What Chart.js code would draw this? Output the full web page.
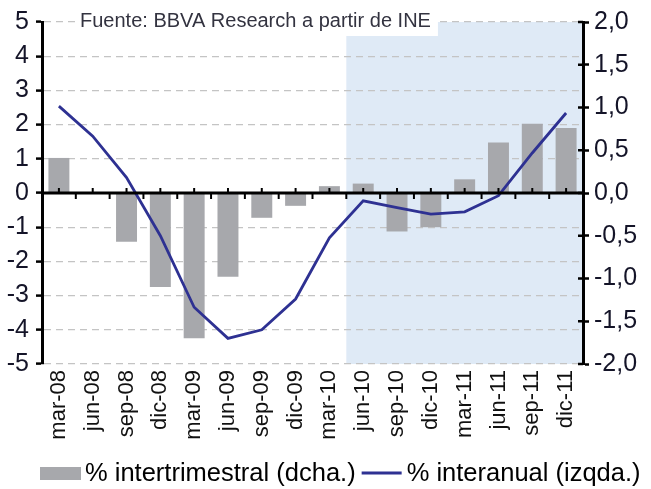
<!DOCTYPE html>
<html>
<head>
<meta charset="utf-8">
<script src="https://cdn.jsdelivr.net/npm/chart.js@4"></script>
<style>
  html, body { margin: 0; padding: 0; background: #fff; }
  #grafico { display: block; }
</style>
</head>
<body>
<canvas id="grafico" width="651" height="489"></canvas>
<script>
// Trimestres
const categorias = ['mar-08', 'jun-08', 'sep-08', 'dic-08', 'mar-09', 'jun-09', 'sep-09', 'dic-09',
  'mar-10', 'jun-10', 'sep-10', 'dic-10', 'mar-11', 'jun-11', 'sep-11', 'dic-11'];

// % intertrimestral (eje derecho)
const intertrimestral = [0.41, 0.0, -0.57, -1.1, -1.7, -0.98, -0.29, -0.15,
  0.08, 0.11, -0.45, -0.4, 0.16, 0.59, 0.81, 0.76];

// % interanual (eje izquierdo)
const interanual = [2.54, 1.66, 0.45, -1.25, -3.34, -4.25, -4.0, -3.1,
  -1.31, -0.23, -0.43, -0.62, -0.55, -0.08, 1.17, 2.34];

// Ticks de los ejes
const ticksIzq = [-5, -4, -3, -2, -1, 0, 1, 2, 3, 4, 5];
const ticksDer = [-2, -1.5, -1, -0.5, 0, 0.5, 1, 1.5, 2];

// Tramo sombreado desde este trimestre hasta el final
const inicioSombra = 'jun-10';
const fuente = 'Fuente: BBVA Research a partir de INE';

const FAMILIA = '"Liberation Sans", Arial, sans-serif';

// Fondo azul del tramo final
const sombra = {
  id: 'sombra',
  beforeDraw(chart) {
    const { ctx, chartArea, scales } = chart;
    const i = categorias.indexOf(inicioSombra);
    const paso = scales.x.getPixelForValue(1) - scales.x.getPixelForValue(0);
    const x0 = scales.x.getPixelForValue(i) - paso / 2;
    ctx.save();
    ctx.fillStyle = '#dfeaf6';
    ctx.fillRect(x0, chartArea.top, chartArea.right - x0, chartArea.bottom - chartArea.top);
    ctx.restore();
  }
};

// Eje horizontal en el cero, con marcas
const ejeCero = {
  id: 'ejeCero',
  afterDatasetsDraw(chart) {
    const { ctx, chartArea, scales } = chart;
    const y0 = scales.y.getPixelForValue(0);
    const paso = scales.x.getPixelForValue(1) - scales.x.getPixelForValue(0);
    ctx.save();
    ctx.strokeStyle = '#000';
    ctx.lineWidth = 3;
    ctx.beginPath();
    ctx.moveTo(chartArea.left, y0);
    ctx.lineTo(chartArea.right, y0);
    ctx.stroke();
    ctx.lineWidth = 2;
    categorias.forEach((c, i) => {
      const xc = scales.x.getPixelForValue(i);
      ctx.beginPath();
      ctx.moveTo(xc, y0);
      ctx.lineTo(xc, y0 - 5);
      ctx.stroke();
      if (i > 0) {
        const xb = xc - paso / 2;
        ctx.beginPath();
        ctx.moveTo(xb, y0);
        ctx.lineTo(xb, y0 + 6);
        ctx.stroke();
      }
    });
    // parte interior de las marcas del eje derecho
    ctx.lineWidth = 2.5;
    ticksDer.forEach(v => {
      const y = scales.y1.getPixelForValue(v);
      ctx.beginPath();
      ctx.moveTo(chartArea.right - 5, y);
      ctx.lineTo(chartArea.right, y);
      ctx.stroke();
    });
    ctx.restore();
  }
};

// Nota de la fuente sobre recuadro blanco y leyenda inferior
const notaYLeyenda = {
  id: 'notaYLeyenda',
  afterDraw(chart) {
    const { ctx, chartArea } = chart;
    ctx.save();
    ctx.font = '20px ' + FAMILIA;
    const ancho = ctx.measureText(fuente).width;
    const x = chartArea.left + 38;
    ctx.fillStyle = '#fff';
    ctx.fillRect(x - 3, 0, ancho + 10, chartArea.top + 14);
    ctx.fillStyle = '#333340';
    ctx.textBaseline = 'alphabetic';
    ctx.fillText(fuente, x, 27);

    // leyenda
    const [barras, linea] = chart.data.datasets;
    const yl = chart.height - 16;
    ctx.font = '25.5px ' + FAMILIA;
    ctx.textBaseline = 'middle';
    let xl = 40;
    ctx.fillStyle = barras.backgroundColor;
    ctx.fillRect(xl, yl - 6, 41, 13);
    xl += 45;
    ctx.fillStyle = '#000';
    ctx.fillText(barras.label, xl, yl + 1);
    xl += ctx.measureText(barras.label).width + 6;
    ctx.strokeStyle = linea.borderColor;
    ctx.lineWidth = 3;
    ctx.beginPath();
    ctx.moveTo(xl, yl);
    ctx.lineTo(xl + 40, yl);
    ctx.stroke();
    xl += 45;
    ctx.fillText(linea.label, xl, yl + 1);
    ctx.restore();
  }
};

new Chart(document.getElementById('grafico'), {
  data: {
    labels: categorias,
    datasets: [
      {
        type: 'bar',
        label: '% intertrimestral (dcha.)',
        data: intertrimestral,
        yAxisID: 'y1',
        backgroundColor: '#a7a8ac',
        borderWidth: 0,
        barPercentage: 0.62,
        categoryPercentage: 1,
        order: 1
      },
      {
        type: 'line',
        label: '% interanual (izqda.)',
        data: interanual,
        yAxisID: 'y',
        borderColor: '#2e3192',
        backgroundColor: '#2e3192',
        borderWidth: 2.8,
        pointRadius: 0,
        tension: 0,
        order: 0
      }
    ]
  },
  options: {
    responsive: false,
    animation: false,
    layout: { padding: { top: 21, left: 0, right: 0, bottom: 45 } },
    plugins: {
      tooltip: { enabled: false },
      legend: { display: false }
    },
    scales: {
      x: {
        grid: { display: false, drawTicks: false },
        border: { display: false },
        ticks: {
          maxRotation: 90,
          minRotation: 90,
          padding: 6,
          color: '#111',
          font: { family: FAMILIA, size: 22 }
        },
        afterFit(scale) { scale.height = 80; }
      },
      y: {
        position: 'left',
        min: -5,
        max: 5,
        afterBuildTicks(scale) { scale.ticks = ticksIzq.map(v => ({ value: v })); },
        ticks: {
          padding: 7,
          color: '#141428',
          font: { family: FAMILIA, size: 25 },
          callback: v => String(v)
        },
        grid: {
          color: '#c4c4c4',
          lineWidth: 1.2,
          tickColor: '#000',
          tickWidth: 2.5,
          tickLength: 6
        },
        border: { display: true, color: '#000', width: 3, dash: [7, 5] },
        afterFit(scale) { scale.width = 42; }
      },
      y1: {
        position: 'right',
        min: -2,
        max: 2,
        afterBuildTicks(scale) { scale.ticks = ticksDer.map(v => ({ value: v })); },
        ticks: {
          padding: 5,
          color: '#141428',
          font: { family: FAMILIA, size: 25 },
          callback: v => v.toFixed(1).replace('.', ',')
        },
        grid: {
          drawOnChartArea: false,
          tickColor: '#000',
          tickWidth: 2.5,
          tickLength: 6
        },
        border: { display: true, color: '#000', width: 3 },
        afterFit(scale) { scale.width = 68; }
      }
    }
  },
  plugins: [sombra, ejeCero, notaYLeyenda]
});
</script>
</body>
</html>
